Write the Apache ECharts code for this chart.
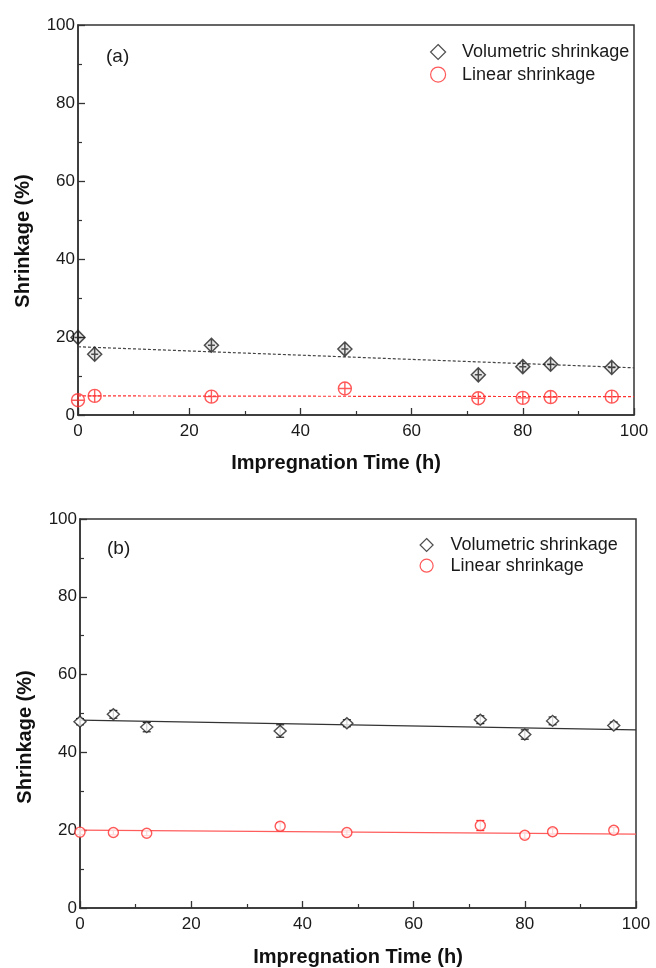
<!DOCTYPE html>
<html>
<head>
<meta charset="utf-8">
<script src="https://cdn.jsdelivr.net/npm/echarts@6/dist/echarts.min.js"></script>
<style>
  html, body { margin: 0; padding: 0; background: #fff; }
  #chart { width: 656px; height: 968px; }
</style>
</head>
<body>
<div id="chart"></div>
<script>
// panel (a)
const timeA = [0, 3, 24, 48, 72, 80, 85, 96];
const volA = [19.9, 15.6, 17.9, 16.9, 10.3, 12.4, 13.0, 12.2];
const linA = [3.8, 4.9, 4.7, 6.8, 4.3, 4.4, 4.6, 4.7];
// panel (b)
const timeB = [0, 6, 12, 36, 48, 72, 80, 85, 96];
const volB = [47.9, 49.8, 46.5, 45.5, 47.5, 48.4, 44.6, 48.1, 46.9];
const linB = [19.5, 19.4, 19.2, 21.0, 19.4, 21.2, 18.7, 19.6, 20.0];
const errVolB = [0.8, 1.0, 1.2, 1.6, 0.9, 1.0, 1.2, 1.0, 0.9];
const errLinB = [0.6, 0.6, 0.6, 0.9, 0.6, 1.3, 0.8, 0.8, 0.7];
// linear fits, end points at x = 0 and 100
const fitX = [0, 100];
const fitVolA = [17.5, 12.1];
const fitLinA = [4.9, 4.7];
const fitVolB = [48.3, 45.8];
const fitLinB = [20.0, 19.0];

const FONT = 'Liberation Sans';
const RED = '#ff3030';
const DARK = '#222';

const pairs = (xs, ys) => xs.map((x, i) => [x, ys[i]]);
const triples = (xs, ys, es) => xs.map((x, i) => [x, ys[i], es[i]]);

const diamondPlus = 'path://M0,-6L6,0L0,6L-6,0Z M0,-6L0,6 M-3,0L3,0';
const circlePlus = 'path://M-6,0A6,6,0,1,1,6,0A6,6,0,1,1,-6,0Z M0,-6L0,6 M-6,0L6,0';

function xAxisOf(i) {
  return {
    gridIndex: i, type: 'value', min: 0, max: 100, interval: 20,
    axisLine: { show: true, lineStyle: { color: '#333', width: 1.5 } },
    axisTick: { show: true, inside: true, length: 7, lineStyle: { color: '#333', width: 1.3 } },
    minorTick: { show: true, splitNumber: 2, length: 4, lineStyle: { color: '#333', width: 1.2 } },
    splitLine: { show: false },
    axisLabel: { fontFamily: FONT, fontSize: 17, color: '#1a1a1a', margin: 8 }
  };
}
function yAxisOf(i) {
  return {
    gridIndex: i, type: 'value', min: 0, max: 100, interval: 20,
    axisLine: { show: true, lineStyle: { color: '#333', width: 1.5 } },
    axisTick: { show: true, inside: true, length: 7, lineStyle: { color: '#333', width: 1.3 } },
    minorTick: { show: true, splitNumber: 2, length: 4, lineStyle: { color: '#333', width: 1.2 } },
    splitLine: { show: false },
    axisLabel: { fontFamily: FONT, fontSize: 17, color: '#1a1a1a', margin: 3 }
  };
}

function fitLine(i, ys, color, dashed) {
  return {
    name: 'fit', type: 'line', xAxisIndex: i, yAxisIndex: i,
    data: pairs(fitX, ys), symbol: 'none', silent: true, z: 1,
    lineStyle: { color, width: 1.2, type: dashed ? [3, 2] : 'solid' }
  };
}

function errorBars(i, data, color) {
  return {
    name: 'err', type: 'custom', xAxisIndex: i, yAxisIndex: i, data, z: 2, silent: true,
    renderItem(params, api) {
      const x = api.value(0), y = api.value(1), e = api.value(2);
      const lo = api.coord([x, y - e]);
      const hi = api.coord([x, y + e]);
      const style = { stroke: color, lineWidth: 1.2 };
      return {
        type: 'group',
        children: [
          { type: 'line', shape: { x1: lo[0], y1: lo[1], x2: hi[0], y2: hi[1] }, style },
          { type: 'line', shape: { x1: lo[0] - 4, y1: lo[1], x2: lo[0] + 4, y2: lo[1] }, style },
          { type: 'line', shape: { x1: hi[0] - 4, y1: hi[1], x2: hi[0] + 4, y2: hi[1] }, style }
        ]
      };
    }
  };
}

function legendOf(left, top, size, pad, gap) {
  return {
    orient: 'vertical', left, top, itemWidth: size, itemHeight: size, itemGap: gap,
    selectedMode: false,
    itemStyle: { color: '#fff', borderWidth: 1.2 },
    textStyle: { fontFamily: FONT, fontSize: 18, color: '#1a1a1a', padding: [0, 0, 0, pad] },
    data: [
      { name: 'Volumetric shrinkage', icon: 'diamond' },
      { name: 'Linear shrinkage', icon: 'circle' }
    ]
  };
}

const option = {
  backgroundColor: '#fff',
  animation: false,
  grid: [
    { left: 78, top: 25, width: 556, height: 390, show: true, borderColor: '#333', borderWidth: 1.5 },
    { left: 80, top: 519, width: 556, height: 389, show: true, borderColor: '#333', borderWidth: 1.5 }
  ],
  xAxis: [xAxisOf(0), xAxisOf(1)],
  yAxis: [yAxisOf(0), yAxisOf(1)],
  legend: [
    legendOf(425, 38, 15, 11.5, 4.6),
    legendOf(414.5, 531, 13, 12.5, 2.7)
  ],
  graphic: [
    { type: 'text', x: 106, y: 57, style: { text: '(a)', font: '19px ' + FONT, fill: '#1a1a1a', textVerticalAlign: 'middle' } },
    { type: 'text', x: 107, y: 549, style: { text: '(b)', font: '19px ' + FONT, fill: '#1a1a1a', textVerticalAlign: 'middle' } },
    { type: 'text', x: 336, y: 463, style: { text: 'Impregnation Time (h)', font: 'bold 20px ' + FONT, fill: '#111', textAlign: 'center', textVerticalAlign: 'middle' } },
    { type: 'text', x: 358, y: 957, style: { text: 'Impregnation Time (h)', font: 'bold 20px ' + FONT, fill: '#111', textAlign: 'center', textVerticalAlign: 'middle' } },
    { type: 'text', x: 23, y: 241, rotation: Math.PI / 2, style: { text: 'Shrinkage (%)', font: 'bold 20px ' + FONT, fill: '#111', textAlign: 'center', textVerticalAlign: 'middle' } },
    { type: 'text', x: 25, y: 737, rotation: Math.PI / 2, style: { text: 'Shrinkage (%)', font: 'bold 20px ' + FONT, fill: '#111', textAlign: 'center', textVerticalAlign: 'middle' } }
  ],
  series: [
    fitLine(0, fitVolA, '#444', true),
    fitLine(0, fitLinA, RED, true),
    {
      name: 'Volumetric shrinkage', type: 'scatter', xAxisIndex: 0, yAxisIndex: 0, z: 3,
      data: pairs(timeA, volA), symbol: diamondPlus, symbolSize: 14,
      itemStyle: { color: 'rgba(0,0,0,0.12)', borderColor: DARK, borderWidth: 1.5 }
    },
    {
      name: 'Linear shrinkage', type: 'scatter', xAxisIndex: 0, yAxisIndex: 0, z: 3,
      data: pairs(timeA, linA), symbol: circlePlus, symbolSize: 13,
      itemStyle: { color: 'rgba(0,0,0,0)', borderColor: RED, borderWidth: 1.4 }
    },
    fitLine(1, fitVolB, '#333', false),
    fitLine(1, fitLinB, '#ff5c5c', false),
    errorBars(1, triples(timeB, volB, errVolB), DARK),
    errorBars(1, triples(timeB, linB, errLinB), RED),
    {
      name: 'Volumetric shrinkage', type: 'scatter', xAxisIndex: 1, yAxisIndex: 1, z: 3,
      data: pairs(timeB, volB), symbol: 'diamond', symbolSize: [12, 11],
      itemStyle: { color: '#fff', borderColor: DARK, borderWidth: 1.4 }
    },
    {
      name: 'Linear shrinkage', type: 'scatter', xAxisIndex: 1, yAxisIndex: 1, z: 3,
      data: pairs(timeB, linB), symbol: 'circle', symbolSize: 10,
      itemStyle: { color: '#fff', borderColor: RED, borderWidth: 1.4 }
    }
  ]
};

echarts.init(document.getElementById('chart')).setOption(option);
</script>
</body>
</html>
